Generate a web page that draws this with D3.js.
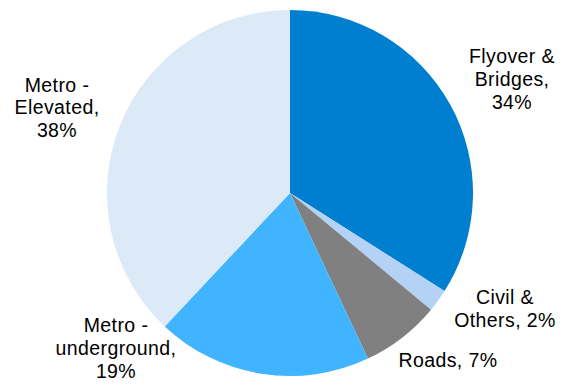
<!DOCTYPE html>
<html><head><meta charset="utf-8">
<script src="https://cdn.jsdelivr.net/npm/d3@7"></script>
<style>html,body{margin:0;padding:0;background:#fff;}svg{display:block;}</style>
</head><body>
<svg id="chart" width="566" height="385"></svg>
<script>
const categories = ["Flyover & Bridges", "Civil & Others", "Roads", "Metro - underground", "Metro - Elevated"];
const values = [34, 2, 7, 19, 38];
const colors = ["#007ED0", "#B3D2F5", "#808080", "#40B4FF", "#DCEAF8"];
// label line breaks (text) and label centres (layout)
const labelLines = [
  ["Flyover &", "Bridges,", "34%"],
  ["Civil &", "Others, 2%"],
  ["Roads, 7%"],
  ["Metro -", "underground,", "19%"],
  ["Metro -", "Elevated,", "38%"]
];
const layout = {cx: 290, cy: 193, r: 183, fontSize: 19.5, lineH: 22.7};
const labelCenters = [[512, 79], [505, 309], [448, 360], [116, 348], [57, 107.5]];

const svg = d3.select("#chart");
const g = svg.append("g").attr("transform", `translate(${layout.cx},${layout.cy})`);
const pie = d3.pie().sort(null).value(d => d.v);
const data = pie(values.map((v, i) => ({v, i})));
const arc = d3.arc().innerRadius(0).outerRadius(layout.r);
g.selectAll("path").data(data).join("path")
  .attr("d", arc).attr("fill", d => colors[d.data.i]);

const labels = svg.append("g")
  .attr("font-family", "'Liberation Sans', Arial, sans-serif")
  .attr("font-size", layout.fontSize).attr("letter-spacing", "0.4px").attr("fill", "#000");
labelLines.forEach((lines, i) => {
  const [x, y] = labelCenters[i];
  const t = labels.append("text").attr("text-anchor", "middle");
  const y0 = y - (lines.length - 1) * layout.lineH / 2;
  lines.forEach((ln, k) => {
    t.append("tspan").attr("x", x).attr("y", y0 + k * layout.lineH).attr("dy", "0.35em").text(ln);
  });
});
</script>
</body></html>
